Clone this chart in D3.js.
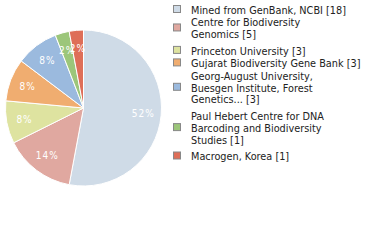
<!DOCTYPE html>
<html>
<head>
<meta charset="utf-8">
<script src="https://cdn.jsdelivr.net/npm/d3@7/dist/d3.min.js"></script>
<style>
  html, body { margin: 0; padding: 0; background: #fff; }
  svg { display: block; }
</style>
</head>
<body>
<svg id="chart" width="380" height="240"></svg>
<script>
// Specimen records by depositing institution
const sources = [
  "Mined from GenBank, NCBI",
  "Centre for Biodiversity Genomics",
  "Princeton University",
  "Gujarat Biodiversity Gene Bank",
  "Georg-August University, Buesgen Institute, Forest Genetics...",
  "Paul Hebert Centre for DNA Barcoding and Biodiversity Studies",
  "Macrogen, Korea"
];
const counts = [18, 5, 3, 3, 3, 1, 1];
const colors = ["#cfdbe7", "#e0a8a0", "#dee3a0", "#f0ad70", "#9bbade", "#9cc67a", "#de6e58"];
// Wrapped legend text, one array of lines per source
const legendLines = [
  ["Mined from GenBank, NCBI [18]"],
  ["Centre for Biodiversity", "Genomics [5]"],
  ["Princeton University [3]"],
  ["Gujarat Biodiversity Gene Bank [3]"],
  ["Georg-August University,", "Buesgen Institute, Forest", "Genetics... [3]"],
  ["Paul Hebert Centre for DNA", "Barcoding and Biodiversity", "Studies [1]"],
  ["Macrogen, Korea [1]"]
];

const svg = d3.select("#chart");
const total = d3.sum(counts);
const cx = 83.5, cy = 108, R = 78;
const font = "'DejaVu Sans Condensed', 'DejaVu Sans', sans-serif";

const pie = d3.pie().sort(null).value(d => d)(counts);
const arc = d3.arc().innerRadius(0).outerRadius(R);
const labelArc = d3.arc().innerRadius(60).outerRadius(60);

const g = svg.append("g").attr("transform", `translate(${cx},${cy})`);
g.selectAll("path.slice").data(pie).join("path")
  .attr("class", "slice")
  .attr("d", arc)
  .attr("fill", (d, i) => colors[i])
  .attr("stroke", "#fff")
  .attr("stroke-width", 1);

// Percentage labels (truncated to whole percent)
g.selectAll("text.pct").data(pie).join("text")
  .attr("class", "pct")
  .attr("transform", d => `translate(${labelArc.centroid(d)})`)
  .attr("text-anchor", "middle")
  .attr("dy", "0.35em")
  .attr("fill", "#fff")
  .style("font-family", font)
  .style("font-size", "10px")
  .style("letter-spacing", "1px")
  .text(d => Math.floor(d.data / total * 100) + "%");

// Legend
const lineH = 11.9;
const legend = svg.append("g").attr("class", "legend");
let y = 10;
legendLines.forEach((lines, i) => {
  const item = legend.append("g");
  const firstY = y;
  lines.forEach((t, k) => {
    item.append("text")
      .attr("x", 191)
      .attr("y", firstY + k * lineH)
      .attr("dy", "0.35em")
      .attr("fill", "#222")
      .style("font-family", font)
      .style("font-size", "10.8px")
      .text(t);
  });
  const midY = firstY + (lines.length - 1) * lineH / 2;
  item.append("rect")
    .attr("x", 173.5).attr("y", midY - 4.5)
    .attr("width", 7).attr("height", 7)
    .attr("fill", colors[i])
    .attr("stroke", "#888")
    .attr("stroke-width", 1);
  y = firstY + (lines.length - 1) * lineH + (lines.length > 1 ? 16.5 : 12.5);
});
</script>
</body>
</html>
